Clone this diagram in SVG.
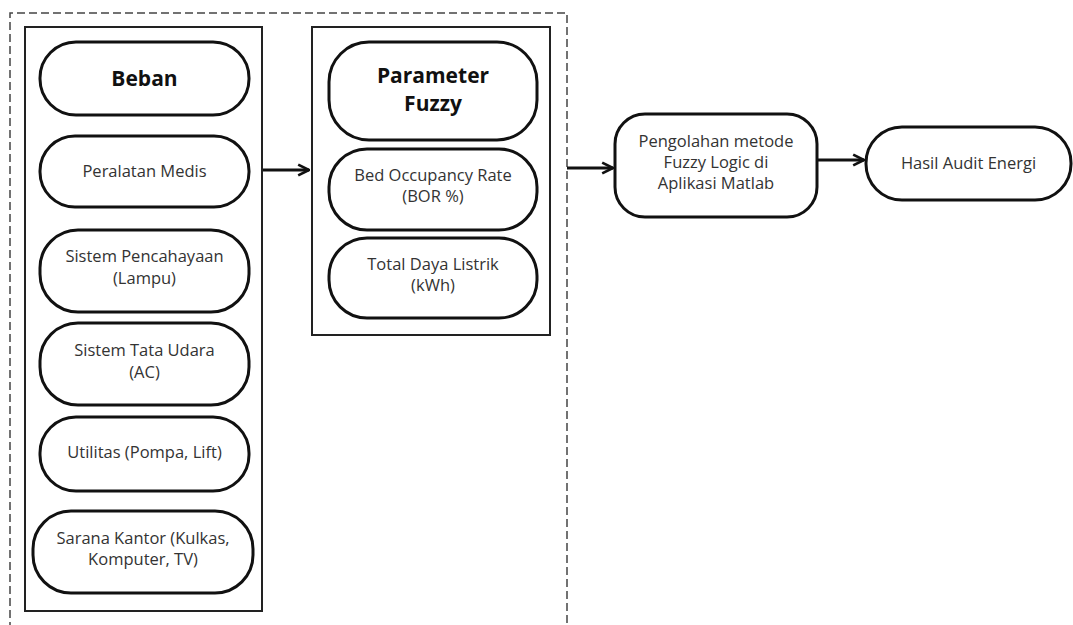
<svg xmlns="http://www.w3.org/2000/svg" width="1073" height="625" viewBox="0 0 1073 625">
<defs>
<style>
.pill{fill:#fff;stroke:#111;stroke-width:3}
.box{fill:none;stroke:#222;stroke-width:2}
.t{font-family:"Open Sans","Liberation Sans",sans-serif;font-size:16.5px;fill:#333;text-anchor:middle}
.b{font-family:"Open Sans","Liberation Sans",sans-serif;font-size:21px;font-weight:bold;fill:#111;text-anchor:middle}
.c{stroke:#111;stroke-width:3;fill:none}
</style>
<marker id="ah" viewBox="0 0 10 10" refX="9" refY="5" markerWidth="4.5" markerHeight="4.5" orient="auto" markerUnits="strokeWidth">
<path d="M1,1 L9,5 L1,9" fill="none" stroke="#111" stroke-width="2"/>
</marker>
</defs>
<rect width="1073" height="625" fill="#fff"/>
<g id="outer-dashed">
<path d="M10,630 L10,13 L567,13 L567,630" fill="none" stroke="#444" stroke-width="1.5" stroke-dasharray="8,4"/>
</g>
<g id="group-beban">
<rect class="box" x="25" y="27" width="237" height="584"/>
</g>
<g id="group-parameter">
<rect class="box" x="312" y="27" width="238" height="308"/>
</g>
<g id="connectors">
<line class="c" x1="263" y1="170" x2="309" y2="170" marker-end="url(#ah)"/>
<line class="c" x1="567" y1="168" x2="613" y2="168" marker-end="url(#ah)"/>
<line class="c" x1="818" y1="160" x2="864" y2="160" marker-end="url(#ah)"/>
</g>
<g id="beban">
<rect class="pill" x="40" y="42" width="209" height="73" rx="36"/>
<text class="b" x="144.5" y="86">Beban</text>
</g>
<g id="peralatan-medis">
<rect class="pill" x="40" y="136" width="209" height="71" rx="35"/>
<text class="t" x="144.5" y="177">Peralatan Medis</text>
</g>
<g id="sistem-pencahayaan">
<rect class="pill" x="40" y="230" width="209" height="82" rx="38"/>
<text class="t" x="144.5" y="262">Sistem Pencahayaan</text>
<text class="t" x="144.5" y="284">(Lampu)</text>
</g>
<g id="sistem-tata-udara">
<rect class="pill" x="40" y="323" width="209" height="82" rx="38"/>
<text class="t" x="144.5" y="356">Sistem Tata Udara</text>
<text class="t" x="144.5" y="378">(AC)</text>
</g>
<g id="utilitas">
<rect class="pill" x="40" y="417" width="209" height="74" rx="36"/>
<text class="t" x="144.5" y="458">Utilitas (Pompa, Lift)</text>
</g>
<g id="sarana-kantor">
<rect class="pill" x="33" y="511" width="220" height="82" rx="38"/>
<text class="t" x="143" y="544">Sarana Kantor (Kulkas,</text>
<text class="t" x="143" y="565">Komputer, TV)</text>
</g>
<g id="parameter-fuzzy">
<rect class="pill" x="329" y="42" width="208" height="98" rx="40"/>
<text class="b" x="433" y="83">Parameter</text>
<text class="b" x="433" y="111">Fuzzy</text>
</g>
<g id="bor">
<rect class="pill" x="329" y="149" width="208" height="81" rx="38"/>
<text class="t" x="433" y="181">Bed Occupancy Rate</text>
<text class="t" x="433" y="202">(BOR %)</text>
</g>
<g id="total-daya">
<rect class="pill" x="329" y="238" width="208" height="80" rx="38"/>
<text class="t" x="433" y="270">Total Daya Listrik</text>
<text class="t" x="433" y="291">(kWh)</text>
</g>
<g id="pengolahan">
<rect class="pill" x="615" y="114" width="202" height="103" rx="30"/>
<text class="t" x="716" y="147">Pengolahan metode</text>
<text class="t" x="716" y="168">Fuzzy Logic di</text>
<text class="t" x="716" y="189">Aplikasi Matlab</text>
</g>
<g id="hasil">
<rect class="pill" x="866" y="127" width="205" height="73" rx="36"/>
<text class="t" x="968.5" y="169">Hasil Audit Energi</text>
</g>
</svg>
